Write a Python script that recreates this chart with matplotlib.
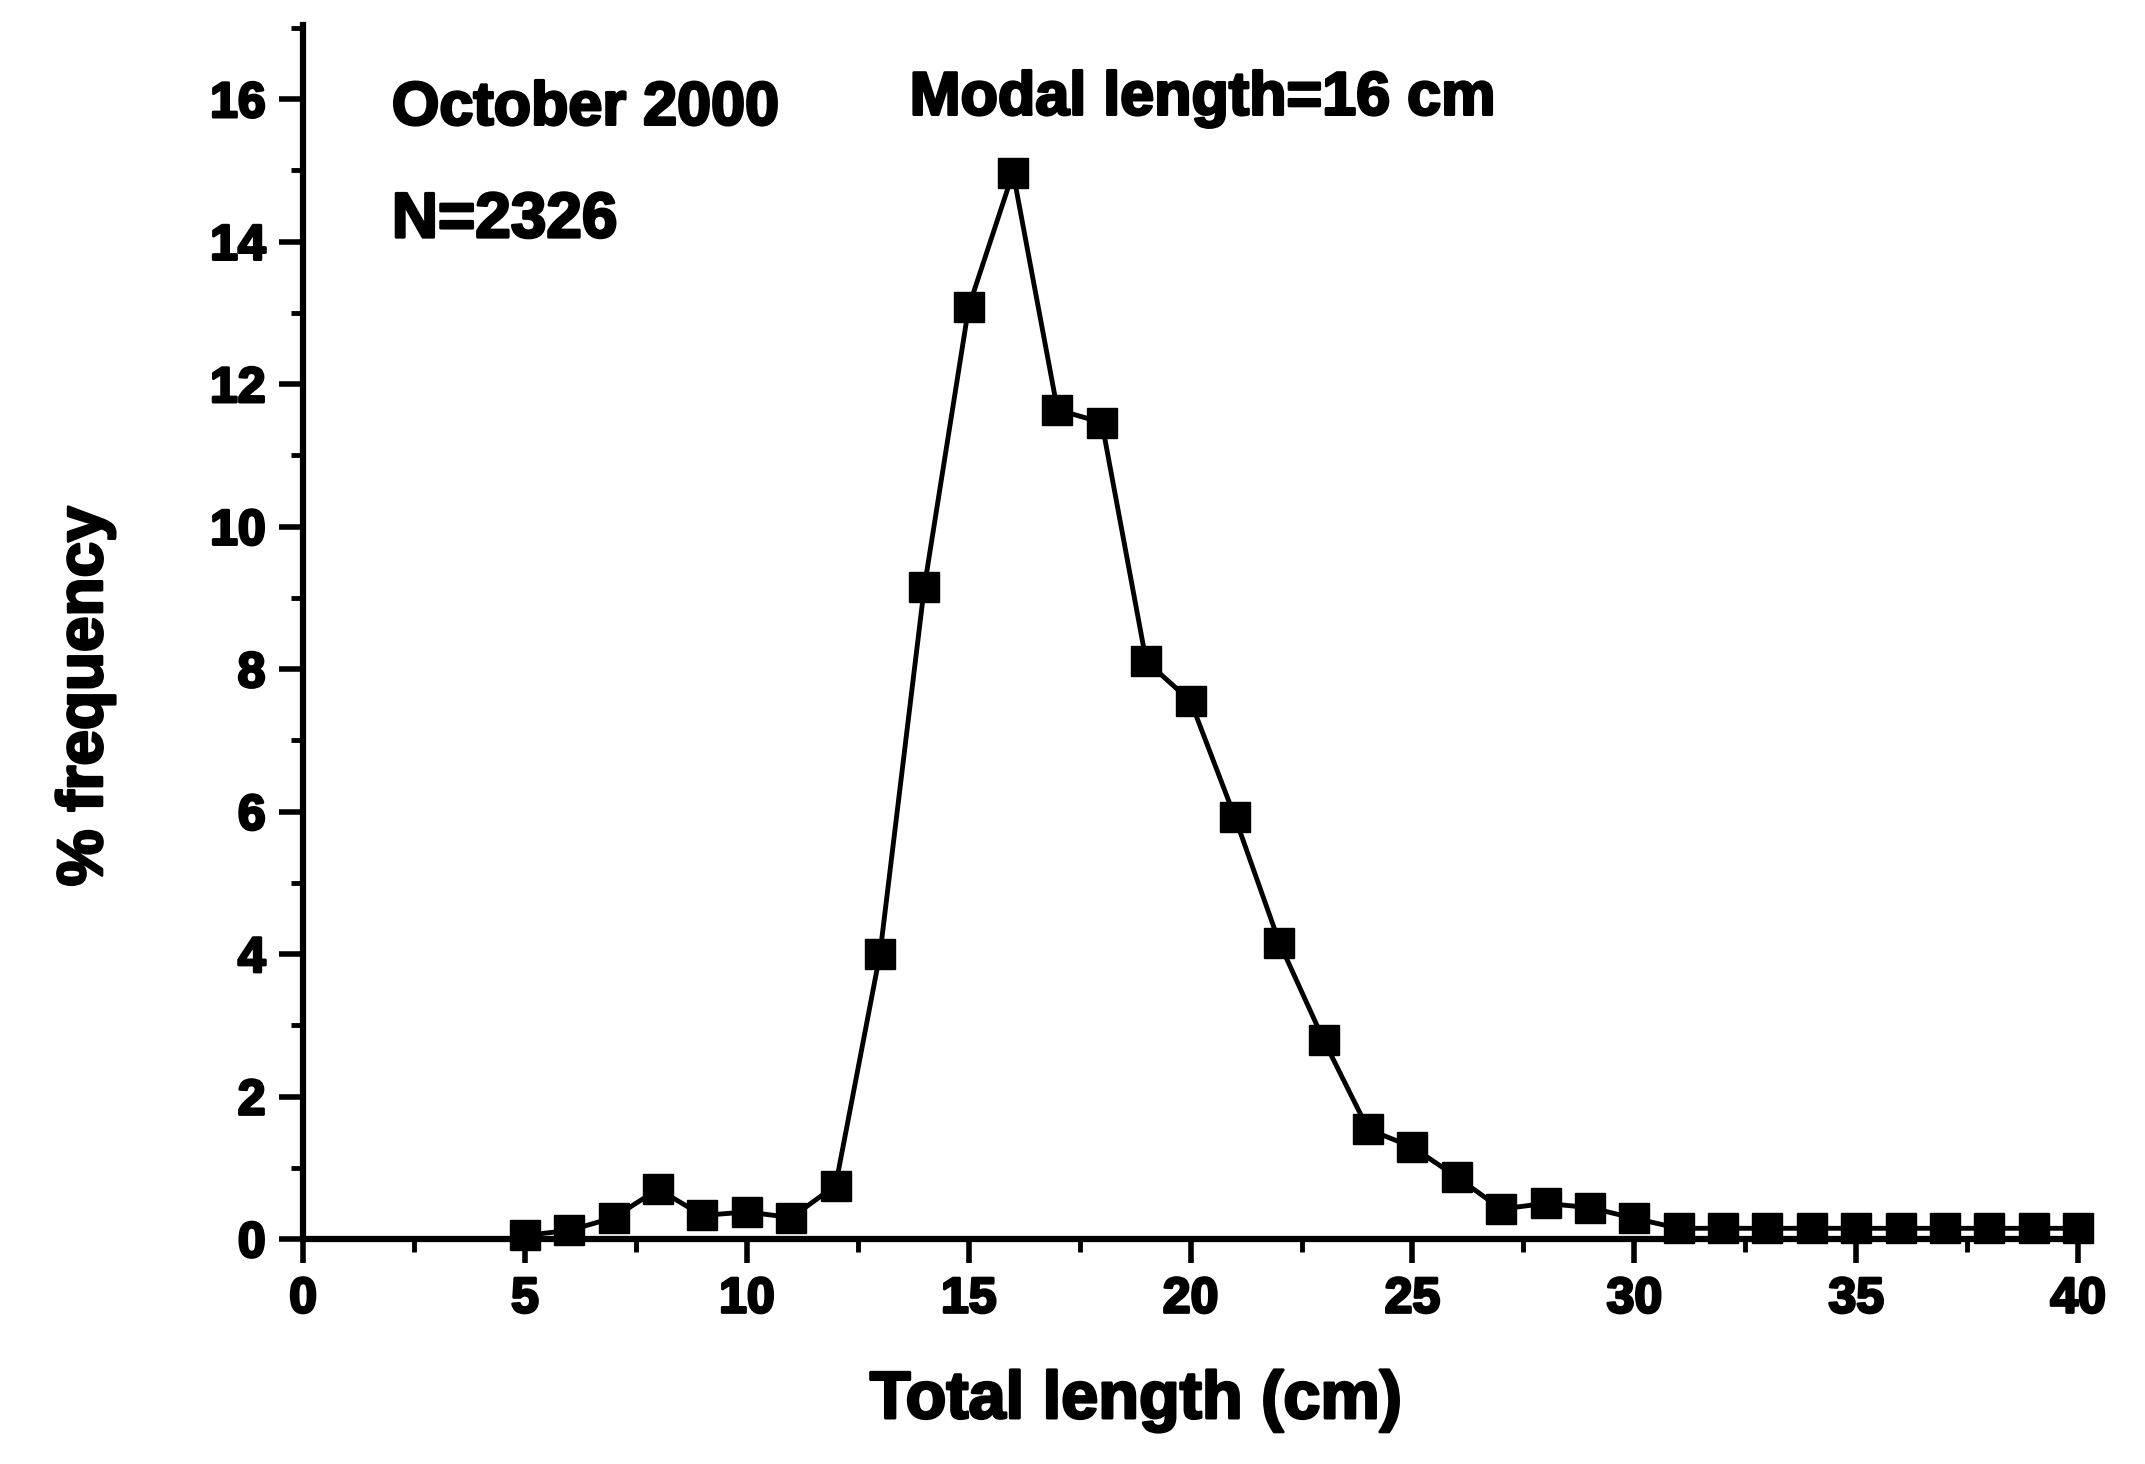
import matplotlib
matplotlib.use('Agg')
import matplotlib.pyplot as plt
import matplotlib.patheffects as pe
from matplotlib.ticker import MultipleLocator

# length classes (cm) and percent frequency
lengths = [5, 6, 7, 8, 9, 10, 11, 12, 13, 14, 15, 16, 17, 18, 19, 20, 21, 22,
           23, 24, 25, 26, 27, 28, 29, 30, 31, 32, 33, 34, 35, 36, 37, 38, 39, 40]
freq = [0.05, 0.12, 0.3, 0.7, 0.33, 0.38, 0.3, 0.75, 4.0, 9.15, 13.08, 14.97,
        11.64, 11.46, 8.11, 7.55, 5.92, 4.16, 2.79, 1.54, 1.29, 0.87, 0.42,
        0.5, 0.44, 0.29, 0.15, 0.15, 0.15, 0.15, 0.15, 0.15, 0.15, 0.15, 0.15, 0.15]

y_ticks = [0, 2, 4, 6, 8, 10, 12, 14, 16]
x_ticks = [0, 5, 10, 15, 20, 25, 30, 35, 40]

plt.rcParams['font.family'] = ['Liberation Sans', 'DejaVu Sans']
plt.rcParams['font.weight'] = 'bold'

# heavy ink look on all text
heavy = [pe.withStroke(linewidth=2.0, foreground='black')]

fig = plt.figure(figsize=(21.45, 14.64), dpi=100)
ax = fig.add_axes([0.1413, 0.1537, 0.8275, 0.8292])

ax.plot(lengths, freq, color='black', linewidth=3.5, marker='s',
        markersize=22, clip_on=False, zorder=3)

ax.set_xlim(0, 40)
ax.set_ylim(0, 17.04)
ax.set_xticks(x_ticks)
ax.set_yticks(y_ticks)
ax.xaxis.set_minor_locator(MultipleLocator(2.5))
ax.yaxis.set_minor_locator(MultipleLocator(1))

for side in ['top', 'right']:
    ax.spines[side].set_visible(False)
for side in ['left', 'bottom']:
    ax.spines[side].set_linewidth(4.5)

ax.tick_params(which='major', length=17, width=4.0, labelsize=36)
ax.tick_params(axis='x', which='major', pad=10)
ax.tick_params(axis='y', which='major', pad=10)
ax.tick_params(which='minor', length=9, width=3.5)
for lab in ax.get_xticklabels() + ax.get_yticklabels():
    lab.set_path_effects(heavy)

ax.set_xlabel('Total length (cm)', fontsize=48, fontweight='bold', path_effects=heavy)
ax.xaxis.set_label_coords(0.469, -0.108)
ax.set_ylabel('% frequency', fontsize=46, fontweight='bold', path_effects=heavy)
ax.yaxis.set_label_coords(-0.106, 0.447)

ax.text(2.0, 15.86, 'October 2000', fontsize=44, fontweight='bold', va='center',
        path_effects=heavy)
ax.text(2.0, 14.3, 'N=2326', fontsize=46, fontweight='bold', va='center',
        path_effects=heavy)
ax.text(13.67, 16.0, 'Modal length=16 cm', fontsize=44, fontweight='bold', va='center',
        path_effects=heavy)

fig.savefig('out.png', dpi=100)
